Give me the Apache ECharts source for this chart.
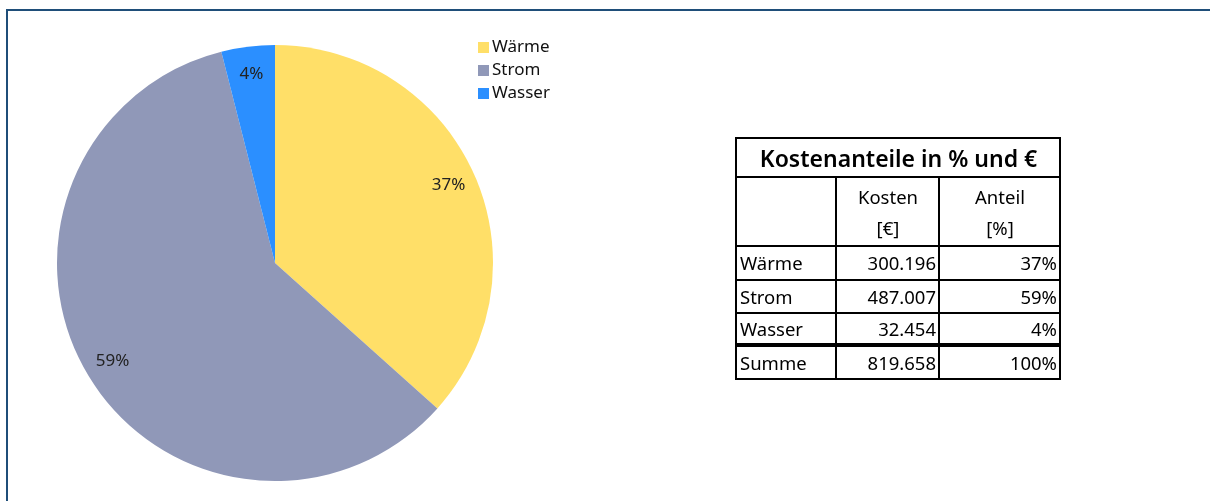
<!DOCTYPE html>
<html>
<head>
<meta charset="utf-8">
<script src="https://cdn.jsdelivr.net/npm/echarts@6/dist/echarts.min.js"></script>
<style>
  html, body { margin: 0; padding: 0; background: #fff; }
  #wrapper { position: relative; width: 1210px; height: 501px; overflow: hidden; }
  #frame { position: absolute; left: 6px; top: 9px; width: 1210px; height: 500px;
    border-left: 2px solid #1f4e79; border-top: 2px solid #1f4e79; }
  #pieCharts1 { position: absolute; left: 0; top: 0; width: 1210px; height: 501px; }
  #costTable { position: absolute; left: 735px; top: 137px; border-collapse: collapse; table-layout: fixed;
    font-family: "Noto Sans", "Open Sans", sans-serif; font-size: 18.5px; color: #000; }
  #costTable td { border: 2px solid #000; padding: 0 2px 0 3px; line-height: 22px; }
  #costTable .title { height: 37px; text-align: center; font-size: 23px; font-weight: 600; }
  #costTable .head td { height: 67px; text-align: center; vertical-align: middle; line-height: 31px; }
  #costTable .num { text-align: right; }
  #costTable .sum td { border-top: 4px solid #000; }
</style>
</head>
<body>
<div id="wrapper">
  <div id="frame"></div>
  <div id="pieCharts1"></div>
  <table id="costTable"></table>
</div>
<script>
//数据
var categories = ['Wärme', 'Strom', 'Wasser'];
var costValues = [300196, 487007, 32454];
var costLabels = ['300.196', '487.007', '32.454'];
var shareLabels = ['37%', '59%', '4%'];
var sumLabel = '819.658';
var sumShare = '100%';
var colors = ['#ffdf68', '#9098b8', '#2b8fff'];

//渲染饼图
function renderPie1() {
  var container = document.getElementById('pieCharts1');
  var myChart = echarts.init(container);
  var data = categories.map(function (name, i) {
    return { name: name, value: costValues[i] };
  });
  var options = {
    backgroundColor: 'transparent',
    color: colors,
    animation: false,
    textStyle: { fontFamily: '"Noto Sans", "Open Sans", sans-serif' },
    legend: {
      orient: 'vertical',
      left: 473,
      top: 34,
      icon: 'rect',
      itemWidth: 11,
      itemHeight: 11,
      itemGap: 6,
      textStyle: { fontSize: 17, color: '#111', padding: [0, 0, 0, -2] },
      data: categories
    },
    series: [
      {
        type: 'pie',
        center: [275, 263],
        radius: [0, 218],
        startAngle: 90,
        clockwise: true,
        label: { show: false },
        labelLine: { show: false },
        itemStyle: { borderWidth: 0 },
        data: data
      },
      {
        //只用来放标签
        type: 'pie',
        center: [275, 263],
        radius: [156, 218],
        startAngle: 90,
        silent: true,
        legendHoverLink: false,
        itemStyle: { color: 'transparent' },
        label: {
          show: true,
          position: 'inside',
          fontSize: 17,
          color: '#222',
          formatter: function (p) { return shareLabels[p.dataIndex]; }
        },
        labelLine: { show: false },
        data: data
      }
    ]
  };
  myChart.setOption(options, true);
}

//表格
function renderTable() {
  var html = '';
  html += '<colgroup><col style="width:100px"><col style="width:103px"><col style="width:121px"></colgroup>';
  html += '<tr><td class="title" colspan="3">Kostenanteile in % und €</td></tr>';
  html += '<tr class="head"><td></td><td>Kosten<br>[€]</td><td>Anteil<br>[%]</td></tr>';
  var heights = [34, 33, 32];
  categories.forEach(function (name, i) {
    html += '<tr style="height:' + heights[i] + 'px"><td>' + name + '</td><td class="num">' + costLabels[i] +
      '</td><td class="num">' + shareLabels[i] + '</td></tr>';
  });
  html += '<tr class="sum" style="height:34px"><td>Summe</td><td class="num">' + sumLabel +
    '</td><td class="num">' + sumShare + '</td></tr>';
  document.getElementById('costTable').innerHTML = html;
}

renderPie1();
renderTable();
</script>
</body>
</html>
